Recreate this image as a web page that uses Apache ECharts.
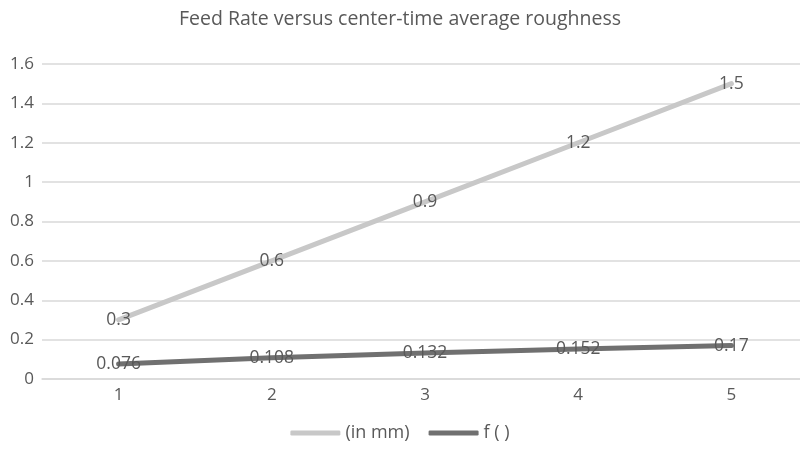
<!DOCTYPE html>
<html><head><meta charset="utf-8">
<script src="https://cdn.jsdelivr.net/npm/echarts@6/dist/echarts.min.js"></script>
<style>html,body{margin:0;padding:0;background:#fff}#c{width:800px;height:449px}</style>
</head><body><div id="c"></div>
<script>
const categories = ['1','2','3','4','5'];
const seriesInMm = [0.3, 0.6, 0.9, 1.2, 1.5];
const seriesF = [0.076, 0.108, 0.132, 0.152, 0.17];
const seriesNames = ['(in mm)', 'f ( )'];
const titleText = 'Feed Rate versus center-time average roughness';

const FONT = '"Open Sans", sans-serif';
const TXT = '#595959';
const chart = echarts.init(document.getElementById('c'));
function lineSeries(name, data, color) {
  return {
    name, type: 'line', data, symbol: 'circle', symbolSize: 0.01, showSymbol: true, smooth: false,
    lineStyle: { color, width: 5, cap: 'round' },
    itemStyle: { color },
    label: { show: true, position: 'inside', color: TXT, fontFamily: FONT, fontSize: 17.5 },
    labelLayout: { hideOverlap: false },
    z: 2
  };
}
chart.setOption({
  animation: false,
  title: { text: titleText, left: 'center', top: 4,
    textStyle: { color: TXT, fontFamily: FONT, fontSize: 19.5, fontWeight: 'normal' } },
  legend: { bottom: 2, left: 'center', itemWidth: 50, itemHeight: 5, itemGap: 19, icon: 'roundRect',
    textStyle: { color: TXT, fontFamily: FONT, fontSize: 18 },
    data: seriesNames },
  grid: { left: 42, top: 64, width: 766, height: 315, outerBoundsMode: 'none', containLabel: false },
  xAxis: { type: 'category', data: categories, boundaryGap: true,
    axisLine: { lineStyle: { color: '#d9d9d9', width: 1.5 } }, axisTick: { show: false },
    axisLabel: { color: TXT, fontFamily: FONT, fontSize: 17, margin: 8 } },
  yAxis: { type: 'value', min: 0, max: 1.6, interval: 0.2,
    axisLine: { show: false }, axisTick: { show: false },
    splitLine: { lineStyle: { color: '#d9d9d9', width: 1.5 } },
    axisLabel: { color: TXT, fontFamily: FONT, fontSize: 17, margin: 8,
      formatter: v => String(Math.round(v * 10) / 10) } },
  series: [
    lineSeries(seriesNames[0], seriesInMm, '#c8c8c8'),
    lineSeries(seriesNames[1], seriesF, '#707070')
  ]
});
</script></body></html>
